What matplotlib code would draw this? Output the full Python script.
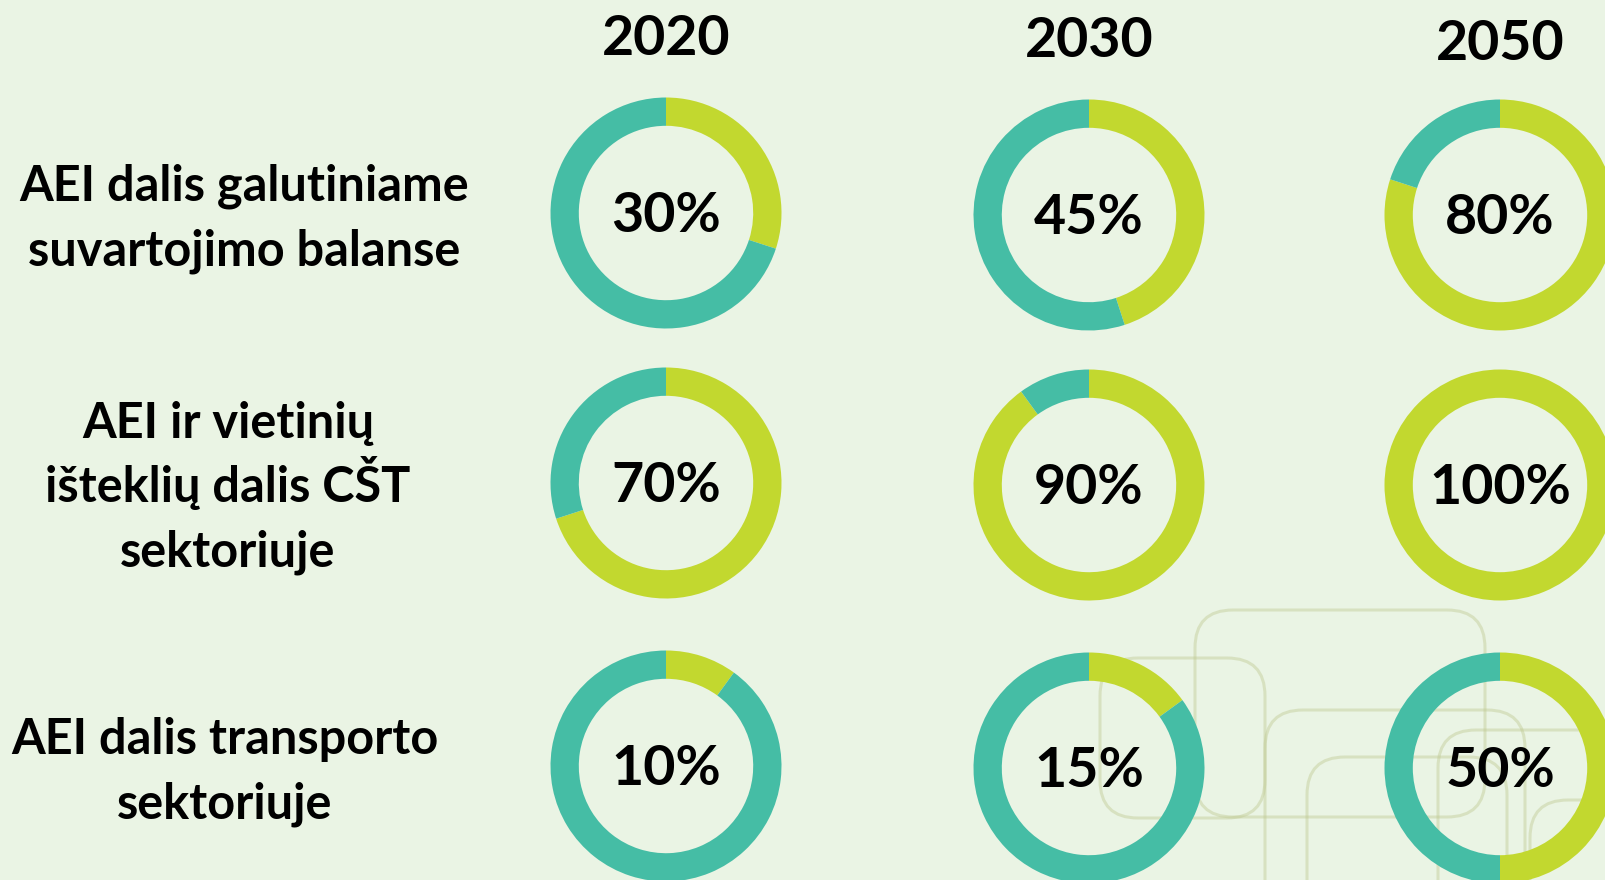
"""Donut grid — AEI (renewable energy) share targets for 2020 / 2030 / 2050."""

import matplotlib
matplotlib.use("Agg")
import matplotlib.pyplot as plt
from matplotlib.patches import FancyBboxPatch

# ---------------------------------------------------------------------------
# Data
# ---------------------------------------------------------------------------
years = ["2020", "2030", "2050"]
row_labels = [
    ["AEI dalis galutiniame", "suvartojimo balanse"],
    ["AEI ir vietinių", "išteklių dalis CŠT", "sektoriuje"],
    ["AEI dalis transporto", "sektoriuje"],
]
shares = [
    [30, 45, 80],
    [70, 90, 100],
    [10, 15, 50],
]

# ---------------------------------------------------------------------------
# Layout / style (pixel coordinates, origin top-left)
# ---------------------------------------------------------------------------
W, H = 1605, 880
BG = "#eaf4e4"
LIME = "#c2d82f"
TEAL = "#45bda5"
DECO = "#bcc68c"
col_x = [666, 1089, 1500]
row_y = [213, 483, 766]
year_y = [39, 41, 44]
label_x = [244, 228, 225]
label_y = [219, 488, 772]
LINE_STEP = 64.5
R = 115.5
RING = 0.245
FONT = "Lato"

fig = plt.figure(figsize=(W / 100, H / 100), dpi=100, facecolor=BG)
ax = fig.add_axes([0, 0, 1, 1])
ax.set_facecolor(BG)


def Y(y):
    return H - y


# ── decorative rounded outlines (lower right) ────────────────────────────────
deco_boxes = [
    (1195, 610, 290, 207),
    (1265, 710, 260, 260),
    (1307, 757, 200, 200),
    (1100, 658, 165, 160),
    (1438, 730, 220, 200),
    (1530, 800, 120, 120),
]
for (bx, by, bw, bh) in deco_boxes:
    ax.add_patch(FancyBboxPatch((bx, Y(by + bh)), bw, bh,
                                boxstyle="round,pad=0,rounding_size=38",
                                fill=False, ec=DECO, lw=2.2, alpha=0.4,
                                zorder=1))

# ── donuts ──────────────────────────────────────────────────────────────────
for i, row in enumerate(shares):
    for j, v in enumerate(row):
        cx, cy = col_x[j], row_y[i] + (2 if j else 0)
        ax.pie([v, 100 - v], colors=[LIME, TEAL], startangle=90,
               counterclock=False, radius=R, center=(cx, Y(cy)),
               wedgeprops=dict(width=R * RING, linewidth=0),
               frame=True)
        ax.text(cx, Y(cy + 3), f"{v}%", ha="center", va="center",
                fontsize=40, fontweight="bold", family=FONT, color="black",
                zorder=5)

ax.set_xlim(0, W)
ax.set_ylim(0, H)
ax.set_aspect("equal")
ax.axis("off")

# ── year headers ────────────────────────────────────────────────────────────
for j, yr in enumerate(years):
    ax.text(col_x[j], Y(year_y[j]), yr, ha="center", va="center",
            fontsize=40, fontweight="bold", family=FONT, color="black")

# ── row labels (one text per line so spacing stays even) ─────────────────────
for i, lines in enumerate(row_labels):
    n = len(lines)
    for k, line in enumerate(lines):
        yc = label_y[i] + (k - (n - 1) / 2) * LINE_STEP
        ax.text(label_x[i], Y(yc + 14), line, ha="center", va="baseline",
                fontsize=35, fontweight="bold", family=FONT, color="black")

fig.savefig("out.png", dpi=100, facecolor=BG)
